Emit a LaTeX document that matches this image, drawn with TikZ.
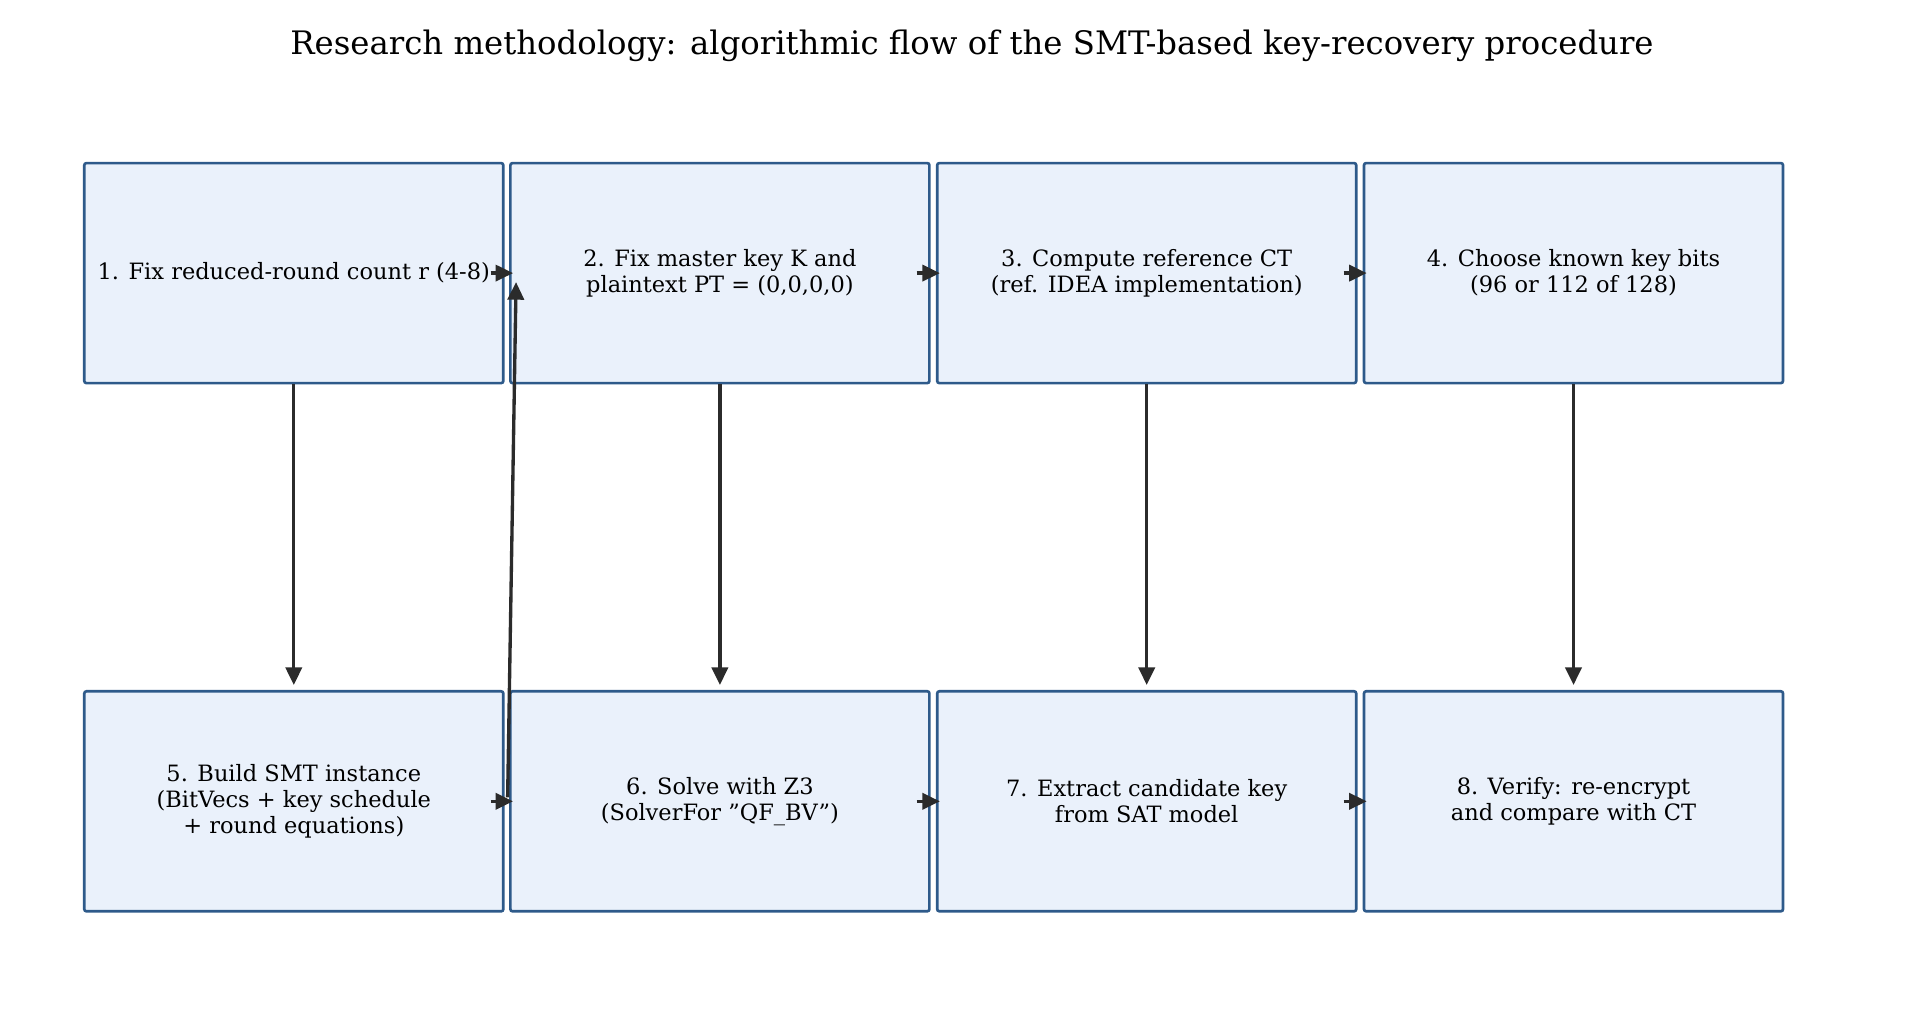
\documentclass[tikz,border=0pt]{standalone}
\usepackage{fontspec}
\setmainfont{DejaVu Serif}
\usetikzlibrary{arrows.meta}
\definecolor{stepfill}{HTML}{EAF1FB}
\definecolor{stepdraw}{HTML}{2E5A8A}
\definecolor{flowline}{HTML}{2B2B2B}
\tikzset{stepbox/.style={draw=stepdraw,fill=stepfill,line width=0.75pt,rounded corners=0.6pt,minimum width=4.19cm,minimum height=2.2cm,align=center,inner sep=0.02cm,font=\fontsize{6.4}{7.4}\selectfont},
flow/.style={draw=flowline,line width=0.95pt,-{Triangle[length=5pt,width=4.6pt]}},
title/.style={font=\fontsize{9.2}{11}\selectfont}}
\begin{document}
\begin{tikzpicture}
\useasboundingbox (0,0) rectangle (19.2,10.24);

%% Coordinates of nodes.
\coordinate (c1) at (2.938,7.509);
\coordinate (c2) at (7.199,7.509);
\coordinate (c3) at (11.467,7.509);
\coordinate (c4) at (15.735,7.509);
\coordinate (c5) at (2.938,2.227);
\coordinate (c6) at (7.199,2.227);
\coordinate (c7) at (11.467,2.227);
\coordinate (c8) at (15.735,2.227);

%% title
\node [title] (ttl) at (9.72,9.785) {Research methodology: algorithmic flow of the SMT-based key-recovery procedure};

%% steps
\node [stepbox] (s1) at (c1) {1. Fix reduced-round count r (4-8)};
\node [stepbox] (s2) at (c2) {2. Fix master key K and\\plaintext PT = (0,0,0,0)};
\node [stepbox] (s3) at (c3) {3. Compute reference CT\\(ref. IDEA implementation)};
\node [stepbox] (s4) at (c4) {4. Choose known key bits\\(96 or 112 of 128)};
\node [stepbox] (s5) at (c5) {5. Build SMT instance\\(BitVecs + key schedule\\+ round equations)};
\node [stepbox] (s6) at (c6) {6. Solve with Z3\\(SolverFor \char34 QF\_BV\char34)};
\node [stepbox] (s7) at (c7) {7. Extract candidate key\\from SAT model};
\node [stepbox] (s8) at (c8) {8. Verify: re-encrypt\\and compare with CT};

%% horizontal arrows
\draw [flow] ([xshift=-0.14cm]s1.east) -- ([xshift=0.04cm]s2.west);
\draw [flow] ([xshift=-0.14cm]s2.east) -- ([xshift=0.04cm]s3.west);
\draw [flow] ([xshift=-0.14cm]s3.east) -- ([xshift=0.04cm]s4.west);
\draw [flow] ([xshift=-0.14cm]s5.east) -- ([xshift=0.04cm]s6.west);
\draw [flow] ([xshift=-0.14cm]s6.east) -- ([xshift=0.04cm]s7.west);
\draw [flow] ([xshift=-0.14cm]s7.east) -- ([xshift=0.04cm]s8.west);

%% vertical arrows
\draw [flow] (s1.south) -- ([yshift=0.05cm]s5.north);
\draw [flow] (s2.south) -- ([yshift=0.05cm]s6.north);
\draw [flow] (s3.south) -- ([yshift=0.05cm]s7.north);
\draw [flow] (s4.south) -- ([yshift=0.05cm]s8.north);

%% back link 5 -> 2
\coordinate (b5) at ([xshift=0.03cm,yshift=0.04cm]s5.east);
\coordinate (b2) at ([xshift=0.07cm,yshift=-0.09cm]s2.west);
\draw [flow] (b5) -- (b2);

\end{tikzpicture}
\end{document}
